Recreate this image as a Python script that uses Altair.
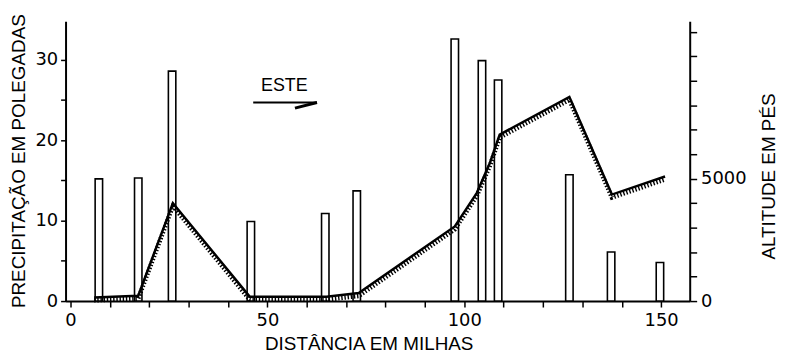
import altair as alt
import pandas as pd

# Precipitation bars (miles east, inches)
bar_miles = [7.2, 17.2, 25.8, 45.8, 64.7, 72.7, 97.6, 104.5, 108.6, 126.7, 137.3, 149.7]
bar_precip = [15.2, 15.3, 28.6, 9.9, 10.9, 13.7, 32.6, 29.9, 27.5, 15.7, 6.1, 4.8]

# Altitude profile (miles east, feet)
alt_miles = [6.0, 17.2, 26.0, 45.5, 65.0, 73.2, 97.6, 103.2, 106.5, 109.0, 126.7, 137.5, 151.0]
alt_feet = [150, 220, 4000, 180, 180, 330, 3050, 4420, 5640, 6800, 8340, 4350, 5090]

# Axis ticks
x_ticks = list(range(0, 151, 10))
precip_ticks = [0, 5, 10, 15, 20, 25, 30]
feet_ticks = list(range(0, 11001, 1000))

# Annotation ("ESTE" with arrow)
label_text = ["ESTE"]
label_miles = [54.3]
label_precip = [26.8]
arrow_start = [46.4]
arrow_end = [62.6]
arrow_precip = [24.7]
barb_miles = [57.0]
barb_precip = [24.0]

FONT = "Liberation Sans"
TICK_FONT = "DejaVu Sans"

bars_df = pd.DataFrame({"miles": bar_miles, "precip": bar_precip})
alt_df = pd.DataFrame({"miles": alt_miles, "feet": alt_feet})
label_df = pd.DataFrame({"miles": label_miles, "precip": label_precip, "txt": label_text})
arrow_df = pd.DataFrame({"miles": arrow_start, "miles2": arrow_end, "precip": arrow_precip})
barb_df = pd.DataFrame({"miles": arrow_end, "miles2": barb_miles,
                        "precip": arrow_precip, "precip2": barb_precip})

x_scale = alt.Scale(domain=[0, 156], nice=False, zero=False)
x_axis = alt.Axis(
    values=x_ticks,
    labelExpr="datum.value % 50 === 0 ? datum.label : ''",
    title="DISTÂNCIA EM MILHAS",
    tickSize=6, labelPadding=5, labelFlush=False, labelOverlap=False,
    titleX=305.5, titleY=42.5, titleAngle=0, titleBaseline="middle", titleAlign="center",
)
X = alt.X("miles:Q", scale=x_scale, axis=x_axis)

y_scale = alt.Scale(domain=[0, 34.8], nice=False, zero=True)
y_axis = alt.Axis(
    values=precip_ticks,
    labelExpr="datum.value % 10 === 0 ? datum.label : ''",
    title="PRECIPITAÇÃO EM POLEGADAS",
    tickSize=5, labelPadding=3, labelOverlap=False,
    titleX=-47, titleY=140.5, titleAngle=270, titleBaseline="middle", titleAlign="center",
)
Y = alt.Y("precip:Q", scale=y_scale, axis=y_axis)

f_scale = alt.Scale(domain=[0, 11430], nice=False, zero=True)
f_axis = alt.Axis(
    orient="right", values=feet_ticks, format="d",
    labelExpr="(datum.value === 0 || datum.value === 5000) ? datum.label : ''",
    title="ALTITUDE EM PÉS",
    tickSize=7, labelPadding=4, labelOverlap=False,
    titleX=79, titleY=156, titleAngle=270, titleBaseline="middle", titleAlign="center",
)
YF = alt.Y("feet:Q", scale=f_scale, axis=f_axis)

bars = alt.Chart(bars_df).mark_bar(
    fill="white", stroke="black", strokeWidth=1.6, size=7.5
).encode(x=X, y=Y)

text = alt.Chart(label_df).mark_text(
    font=FONT, fontSize=18, align="center", baseline="middle", color="black"
).encode(x=X, y=Y, text="txt:N")

arrow = alt.Chart(arrow_df).mark_rule(color="black", strokeWidth=2).encode(
    x=X, x2="miles2:Q", y=Y
)
barb = alt.Chart(barb_df).mark_rule(color="black", strokeWidth=3).encode(
    x=X, x2="miles2:Q", y=Y, y2="precip2:Q"
)

left = alt.layer(bars, text, arrow, barb)

profile = alt.Chart(alt_df).mark_line(color="black", strokeWidth=2.5).encode(x=X, y=YF)
hatch = alt.Chart(alt_df).mark_line(
    color="black", strokeWidth=4.5, strokeDash=[1.4, 1.8], yOffset=3
).encode(x=X, y=YF)

right = alt.layer(profile, hatch)

chart = alt.layer(left, right).resolve_scale(y="independent").properties(
    width=629, height=282,
    autosize=alt.AutoSizeParams(type="none"),
    padding={"left": 58, "top": 12, "right": 92, "bottom": 52},
).configure_axis(
    labelFont=TICK_FONT, labelFontSize=18, labelColor="black",
    titleFont=FONT, titleFontSize=19, titleFontWeight="normal", titleColor="black",
    domainColor="black", tickColor="black", domainWidth=2, tickWidth=1.5, grid=False,
).configure_view(stroke=None)

chart.save("out.html", embed_options={"renderer": "svg", "actions": False})
